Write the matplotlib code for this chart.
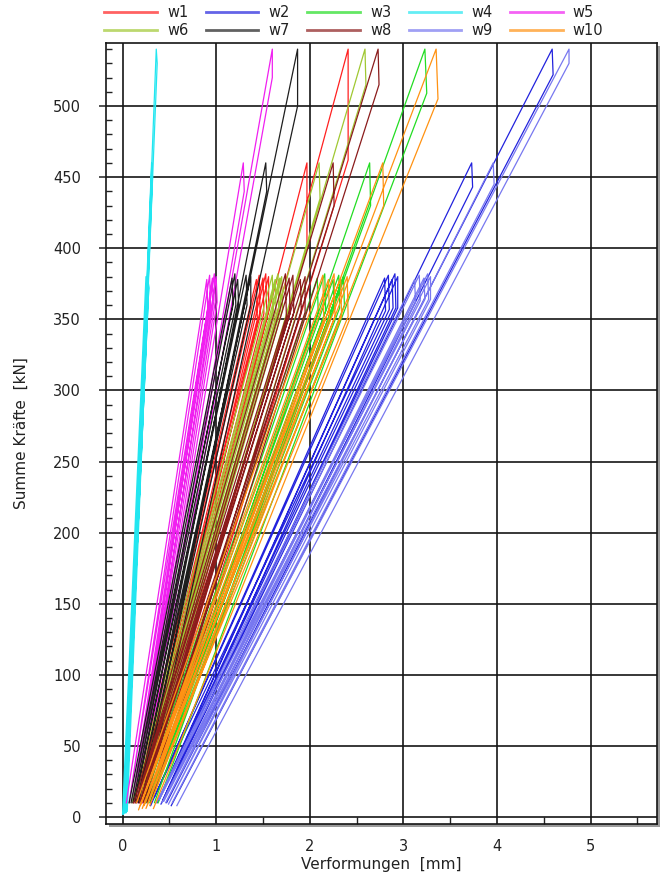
import matplotlib
matplotlib.use("Agg")
import matplotlib.pyplot as plt
from matplotlib.lines import Line2D
from matplotlib.patches import Rectangle
from matplotlib.ticker import MultipleLocator

# load cycles per specimen: 5x to 380 kN, then 460 kN and 540 kN
names = ["w1", "w2", "w3", "w4", "w5", "w6", "w7", "w8", "w9", "w10"]
colors = ["#ff2020", "#2222dd", "#22dd22", "#22e6f0", "#f020f0",
          "#a0c832", "#1e1e1e", "#8b1c1c", "#7878f0", "#ff9212"]

w1_x = [0.12, 1.43, 1.44, 0.14, 1.46, 1.47, 0.16, 1.50, 1.51, 0.18, 1.53, 1.54, 0.20, 1.56, 1.56, 0.21, 1.97, 1.97, 0.25, 2.41, 2.41, 0.30]
w1_y = [10, 378, 350, 12, 381, 353, 11, 379, 354, 10, 382, 355, 12, 380, 356, 10, 460, 400, 12, 540, 462, 10]

w2_x = [0.30, 2.80, 2.81, 0.34, 2.84, 2.85, 0.37, 2.88, 2.89, 0.39, 2.91, 2.92, 0.41, 2.94, 2.94, 0.43, 3.73, 3.74, 0.47, 4.59, 4.60, 0.52]
w2_y = [8, 379, 356, 14, 381, 357, 10, 378, 358, 12, 382, 358, 9, 380, 358, 12, 460, 443, 10, 540, 522, 8]

w3_x = [0.20, 2.08, 2.09, 0.23, 2.16, 2.17, 0.25, 2.25, 2.26, 0.27, 2.31, 2.32, 0.29, 2.36, 2.37, 0.31, 2.64, 2.65, 0.34, 3.23, 3.25, 0.38]
w3_y = [10, 379, 355, 12, 382, 356, 10, 378, 357, 11, 381, 358, 10, 380, 360, 12, 460, 430, 10, 540, 509, 10]

w4_x = [0.00, 0.25, 0.26, 0.01, 0.26, 0.27, 0.02, 0.26, 0.27, 0.02, 0.27, 0.28, 0.03, 0.27, 0.28, 0.03, 0.31, 0.32, 0.04, 0.36, 0.37, 0.05]
w4_y = [2, 380, 370, 2, 380, 371, 3, 380, 372, 3, 380, 372, 3, 380, 372, 3, 460, 450, 3, 540, 530, 4]

w5_x = [0.04, 0.90, 0.91, 0.07, 0.93, 0.94, 0.10, 0.96, 0.97, 0.12, 0.98, 0.99, 0.14, 1.00, 1.01, 0.16, 1.29, 1.30, 0.18, 1.60, 1.60, 0.21]
w5_y = [10, 378, 358, 10, 381, 360, 10, 379, 361, 11, 382, 362, 10, 380, 362, 10, 460, 440, 10, 540, 520, 10]

w6_x = [0.10, 1.60, 1.61, 0.12, 1.63, 1.64, 0.14, 1.66, 1.67, 0.16, 1.68, 1.69, 0.17, 1.70, 1.71, 0.20, 2.10, 2.11, 0.23, 2.59, 2.60, 0.27]
w6_y = [10, 381, 355, 11, 378, 356, 10, 382, 357, 12, 379, 357, 10, 380, 357, 12, 460, 435, 10, 540, 515, 10]

w7_x = [0.07, 1.17, 1.18, 0.09, 1.20, 1.21, 0.11, 1.23, 1.24, 0.13, 1.32, 1.33, 0.15, 1.37, 1.37, 0.17, 1.53, 1.54, 0.20, 1.87, 1.87, 0.24]
w7_y = [10, 379, 360, 10, 382, 360, 10, 378, 360, 11, 381, 360, 10, 380, 360, 10, 460, 440, 10, 540, 500, 10]

w8_x = [0.12, 1.74, 1.75, 0.14, 1.78, 1.79, 0.16, 1.82, 1.83, 0.18, 1.90, 1.91, 0.20, 1.95, 1.95, 0.22, 2.25, 2.26, 0.26, 2.73, 2.74, 0.30]
w8_y = [10, 382, 352, 10, 379, 354, 11, 381, 355, 10, 378, 355, 11, 380, 355, 10, 460, 430, 10, 540, 515, 10]

w9_x = [0.36, 3.12, 3.13, 0.39, 3.17, 3.18, 0.42, 3.22, 3.23, 0.44, 3.26, 3.27, 0.46, 3.29, 3.29, 0.49, 3.96, 3.97, 0.53, 4.77, 4.77, 0.58]
w9_y = [10, 378, 362, 12, 381, 363, 10, 379, 364, 11, 382, 364, 10, 380, 364, 9, 460, 445, 10, 540, 530, 8]

w10_x = [0.15, 2.14, 2.15, 0.17, 2.20, 2.21, 0.19, 2.26, 2.27, 0.21, 2.33, 2.34, 0.23, 2.40, 2.41, 0.25, 2.78, 2.79, 0.29, 3.35, 3.37, 0.33]
w10_y = [10, 381, 350, 5, 378, 351, 8, 382, 352, 6, 379, 352, 8, 380, 352, 6, 460, 430, 8, 540, 505, 6]

series_x = [w1_x, w2_x, w3_x, w4_x, w5_x, w6_x, w7_x, w8_x, w9_x, w10_x]
series_y = [w1_y, w2_y, w3_y, w4_y, w5_y, w6_y, w7_y, w8_y, w9_y, w10_y]

x_ticks = [0, 1, 2, 3, 4, 5]
y_ticks = [0, 50, 100, 150, 200, 250, 300, 350, 400, 450, 500]

W, H = 663, 875
fig = plt.figure(figsize=(W / 100, H / 100), dpi=100)
left, bottom, right, top = 106, 824, 657, 43
pos = [left / W, 1 - bottom / H, (right - left) / W, (bottom - top) / H]
ax = fig.add_axes(pos)
ax.set_zorder(2)

# drop shadow behind the plot frame
off_x, off_y = 3 / W, 3 / H
fig.patches.append(Rectangle((pos[0] + off_x, pos[1] - off_y), pos[2], pos[3],
                             transform=fig.transFigure, facecolor="#9a9a9a",
                             edgecolor="none", zorder=0))

for c, xs, ys in zip(colors, series_x, series_y):
    ax.plot(xs, ys, color=c, lw=0.9, zorder=3)

ax.set_xlim(-0.177, 5.71)
ax.set_ylim(-4.9, 544.3)
ax.set_xticks(x_ticks)
ax.set_yticks(y_ticks)
ax.xaxis.set_minor_locator(MultipleLocator(0.5))
ax.yaxis.set_minor_locator(MultipleLocator(10))
ax.grid(True, which="major", color="#151515", lw=1.2, zorder=1)
ax.set_axisbelow(True)

ax.tick_params(axis="x", which="major", length=0, pad=11, labelsize=10.5, colors="#222222")
ax.tick_params(axis="y", which="major", direction="out", length=5, width=1.1, pad=13,
               labelsize=10.5, colors="#222222")
ax.tick_params(axis="x", which="minor", direction="in", length=5, width=1.0, color="#222222")
ax.tick_params(axis="y", which="minor", direction="in", length=4, width=1.0, color="#222222")
for s in ax.spines.values():
    s.set_linewidth(1.2)
    s.set_color("#151515")
    s.set_zorder(4)

ax.set_xlabel("Verformungen  [mm]", fontsize=11, color="#222222", labelpad=2)
ax.set_ylabel("Summe Kräfte  [kN]", fontsize=11, color="#222222", labelpad=17)

# legend in two rows of five, filled row by row
handles = [Line2D([], [], color=c, lw=2.0, alpha=0.7) for c in colors]
order = [0, 5, 1, 6, 2, 7, 3, 8, 4, 9]
fig.legend([handles[i] for i in order], [names[i] for i in order],
           loc="upper left", bbox_to_anchor=(0.155, 1 - 4 / H), ncol=5, frameon=False,
           fontsize=10.5, handlelength=3.6, handletextpad=0.7, columnspacing=1.2,
           labelspacing=0.15, borderpad=0.1, borderaxespad=0, labelcolor="#222222")

fig.savefig("out.png", dpi=100, facecolor="white")
